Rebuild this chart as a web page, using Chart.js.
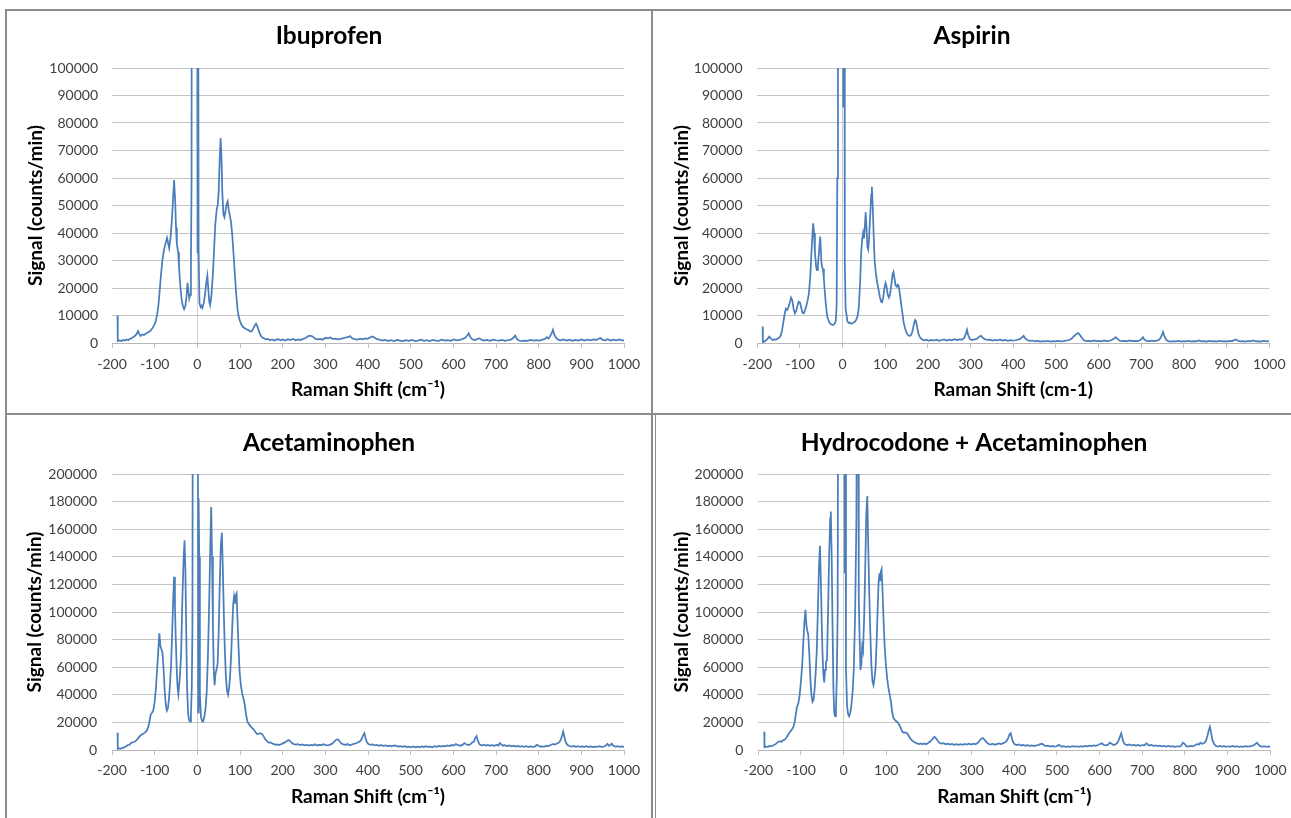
<!DOCTYPE html>
<html>
<head>
<meta charset="utf-8">
<title>Raman spectra</title>
<script src="https://cdn.jsdelivr.net/npm/chart.js@4.4.1/dist/chart.umd.min.js"></script>
<style>
    body { margin: 0; background: #fff; width: 1291px; height: 818px; overflow: hidden; position: relative; }
    .rule { position: absolute; background: #8c8c8c; }
    canvas { position: absolute; }
</style>
</head>
<body>
<div class="rule" style="left:5px;top:9px;width:1286px;height:2px"></div>
<div class="rule" style="left:5px;top:9px;width:2px;height:809px"></div>
<div class="rule" style="left:651px;top:9px;width:2px;height:809px"></div>
<div class="rule" style="left:655px;top:413px;width:1px;height:405px"></div>
<div class="rule" style="left:5px;top:413px;width:1286px;height:2px"></div>

<canvas id="ibuprofen" width="644" height="402" style="left:7px;top:11px"></canvas>
<canvas id="aspirin" width="638" height="402" style="left:653px;top:11px"></canvas>
<canvas id="acetaminophen" width="644" height="403" style="left:7px;top:415px"></canvas>
<canvas id="hydrocodone" width="634" height="403" style="left:657px;top:415px"></canvas>

<script>
"use strict";

// Raman shift axis, same for all four spectra
const shiftTicks = [-200, -100, 0, 100, 200, 300, 400, 500, 600, 700, 800, 900, 1000];

// Ibuprofen spectrum (Raman shift, counts/min), values above 100000 are clipped
const ibuprofenShift = [-187, -186.5, -182, -178, -174, -170, -166, -162, -158, -154, -150, -146, -142, -139, -136, -133, -129, -125, -121, -117, -113, -109, -105, -101, -97, -94, -91, -88, -85, -82, -78, -74, -71, -68, -66, -63, -60, -57, -54.5, -52, -50, -48, -45, -43, -40, -37, -34, -31, -28, -25, -23, -21, -19, -17, -15, -13.5, -12.5, -1, 0.5, 1.5, 3, 5, 8, 10, 12, 15, 18, 21, 23.5, 26, 28, 30, 33, 36, 39, 42, 45, 48, 50, 52.5, 54.5, 56.5, 58.5, 61, 63.5, 66, 68.5, 71, 73.5, 76, 79, 82, 85, 88, 91, 94, 97, 100, 103, 107, 111, 115, 119, 123, 127, 131, 134, 137.5, 140, 143, 146, 149, 152, 156, 160, 165, 170, 175, 180, 185, 190, 195, 200, 206, 212, 218, 224, 230, 236, 242, 248, 254, 260, 265, 270, 276, 282, 288, 294, 300, 306, 312, 318, 324, 330, 336, 342, 348, 354, 358, 363, 369, 375, 381, 387, 393, 399, 405, 410, 415, 421, 427, 433, 440, 447, 454, 461, 468, 475, 482, 489, 496, 503, 510, 517, 524, 531, 538, 545, 552, 559, 566, 573, 580, 587, 594, 601, 608, 615, 622, 628, 633, 636, 639, 643, 649, 655, 660, 666, 672, 679, 686, 693, 700, 707, 714, 721, 728, 735, 740, 745, 749, 754, 760, 767, 774, 781, 788, 795, 802, 809, 815, 819, 823, 827, 831, 833.5, 836, 840, 845, 851, 858, 865, 872, 879, 886, 893, 900, 907, 914, 921, 928, 935, 941, 945, 950, 956, 962, 968, 975, 982, 989, 996, 1000];
const ibuprofenSignal = [10000, 700, 900, 700, 1100, 900, 1300, 1000, 1500, 1700, 2200, 2600, 3300, 4300, 3300, 2600, 3100, 2900, 3400, 3700, 4100, 4600, 5500, 6500, 8200, 10500, 14000, 19500, 25000, 30000, 34000, 36500, 38200, 36000, 34500, 38000, 44000, 52000, 59300, 52000, 42000, 36000, 33000, 28000, 21000, 16000, 13500, 12300, 13500, 17500, 21900, 19000, 16200, 17500, 28000, 60000, 300000, 300000, 33000, 200000, 33000, 14500, 13000, 13500, 12800, 14500, 17500, 22000, 24500, 19000, 15000, 13800, 17000, 24000, 33000, 43000, 48000, 50500, 55000, 67000, 74500, 68000, 55000, 47000, 45800, 48000, 50500, 51500, 48500, 46500, 44000, 39000, 32000, 25000, 18000, 12500, 9500, 8000, 6800, 5800, 5400, 5000, 4800, 4300, 4200, 5200, 6200, 7000, 6300, 5000, 3600, 2600, 2000, 1700, 1300, 1500, 1000, 1300, 900, 1200, 1400, 1000, 1300, 900, 1400, 1100, 1500, 1000, 1300, 1100, 1500, 1800, 2500, 2700, 2400, 1600, 1300, 1500, 1200, 1900, 1700, 2000, 1400, 1600, 1300, 1500, 1800, 2000, 2200, 2500, 1700, 1400, 1200, 1600, 1300, 1700, 1500, 2000, 2400, 2000, 1400, 1200, 900, 1100, 800, 1000, 700, 1100, 900, 700, 1000, 800, 1100, 700, 900, 1200, 800, 1000, 700, 1100, 900, 800, 1200, 900, 1000, 800, 1300, 1000, 1100, 1500, 1900, 2800, 3500, 2400, 1500, 1100, 1300, 1700, 1200, 900, 1100, 800, 1200, 1000, 900, 1100, 800, 1000, 1200, 1800, 2700, 1500, 900, 700, 900, 800, 1100, 900, 1000, 900, 1200, 1500, 2100, 1600, 2500, 3800, 4800, 3300, 2000, 1300, 1000, 1300, 900, 1200, 800, 1100, 900, 1300, 900, 1200, 1000, 1300, 1100, 1600, 1800, 1100, 1000, 1400, 900, 1200, 1000, 1300, 900, 1100];

// Aspirin spectrum
const aspirinShift = [-187.5, -187, -184, -180, -176, -172, -168, -164, -160, -156, -152, -148, -145, -142, -139, -136, -133, -130, -127, -124, -121, -118, -115, -112, -109, -106, -103, -100, -97, -94, -91, -88, -85, -82, -79, -76, -73, -70.5, -69, -67, -65, -62, -60, -58, -55, -52.5, -50, -48, -46, -44, -42, -39, -36, -33, -30, -27, -24, -21, -18, -16, -14, -12.5, -11, 0.5, 1.5, 2.5, 4, 5, 7, 9, 11, 14, 17, 20, 23, 26, 29, 32, 35, 38, 41, 43.5, 46, 48, 50, 52, 54, 56, 58, 60, 62, 64.5, 67, 68.5, 70.5, 73, 75, 78, 81, 84, 87, 90, 92.5, 95, 98, 100.5, 103, 106, 108.5, 111, 114, 117, 119, 121, 124, 127, 129, 131, 134, 137, 140, 143, 146, 149, 152, 155, 158, 161, 164, 167, 170, 172, 175, 178, 182, 186, 191, 196, 202, 208, 214, 220, 226, 232, 238, 244, 250, 256, 262, 268, 274, 280, 285, 289, 291.5, 294, 298, 303, 309, 315, 320, 324, 328, 333, 339, 345, 351, 357, 363, 369, 375, 381, 387, 393, 399, 405, 411, 416, 420, 424, 428, 433, 439, 445, 451, 457, 463, 469, 475, 481, 487, 493, 499, 505, 511, 517, 523, 529, 535, 540, 545, 549, 552, 556, 560, 565, 571, 577, 583, 589, 595, 601, 607, 613, 619, 625, 631, 636, 640, 644, 649, 655, 661, 667, 673, 679, 685, 691, 697, 701, 704, 707, 712, 718, 724, 730, 736, 741, 745, 748, 751, 754, 758, 763, 769, 775, 781, 787, 793, 799, 805, 811, 817, 823, 829, 835, 841, 847, 853, 859, 865, 871, 877, 883, 889, 895, 901, 907, 913, 918, 922, 926, 932, 938, 944, 950, 956, 962, 968, 974, 980, 986, 992, 1000];
const aspirinSignal = [6000, 300, 500, 900, 1500, 2300, 1600, 1100, 1300, 1200, 1600, 2000, 2800, 4500, 7500, 10500, 12500, 12000, 13000, 14500, 16500, 15500, 12500, 10800, 11500, 13500, 15000, 14800, 12800, 11000, 10800, 12000, 13500, 15500, 18000, 24000, 33000, 40000, 43500, 40000, 33000, 27500, 26500, 28000, 34000, 38700, 30000, 27500, 27000, 23500, 19000, 13500, 9500, 8200, 7200, 6800, 6500, 6700, 7200, 8000, 14000, 60000, 300000, 300000, 86000, 300000, 250000, 30000, 12000, 10500, 8000, 7300, 7400, 7000, 7200, 7500, 7800, 8500, 9800, 13000, 22000, 33000, 38000, 40000, 38000, 42000, 47500, 42000, 35000, 34000, 38000, 46000, 54000, 56800, 50000, 38000, 30000, 25000, 22000, 19500, 17000, 15000, 14800, 16500, 20000, 21800, 20500, 17500, 16500, 17500, 21000, 25000, 25800, 24000, 21000, 20500, 21200, 21000, 18000, 14500, 11000, 7500, 5500, 4000, 3100, 2700, 2600, 3000, 4500, 6800, 8400, 8000, 5500, 3200, 1900, 1300, 1000, 1200, 800, 1100, 900, 1200, 800, 1100, 1300, 900, 1200, 1000, 1400, 1100, 1300, 1200, 1800, 3500, 4800, 3000, 1500, 1100, 1300, 1600, 2300, 2600, 2000, 1400, 1100, 1200, 900, 1100, 1000, 1200, 900, 1100, 800, 1000, 900, 1000, 1200, 1500, 2000, 2600, 1700, 1100, 800, 900, 600, 800, 500, 700, 600, 800, 500, 700, 600, 800, 600, 700, 900, 1000, 1400, 2100, 2900, 3400, 3600, 3000, 2000, 1100, 700, 800, 600, 900, 700, 800, 600, 900, 700, 800, 1100, 1600, 2100, 1500, 900, 700, 800, 600, 900, 700, 800, 700, 1000, 1500, 2100, 1300, 800, 700, 900, 700, 900, 1100, 1800, 2900, 4000, 2500, 1200, 700, 500, 700, 600, 800, 500, 700, 600, 800, 500, 700, 600, 900, 600, 700, 500, 800, 600, 700, 500, 800, 600, 700, 500, 800, 700, 1100, 1300, 800, 600, 700, 500, 800, 600, 900, 600, 700, 500, 800, 600, 700];

// Acetaminophen spectrum
const acetaminophenShift = [-187, -186.5, -183, -179, -175, -171, -167, -163, -159, -155, -151, -147, -143, -139, -135, -131, -127, -123, -119, -115, -112, -109, -106, -103, -100, -97, -94, -91.5, -89, -86.5, -84, -81.5, -79, -76.5, -74, -71.5, -69, -66.5, -64, -61.5, -59, -56.5, -54.5, -52.5, -50.5, -48.5, -46.5, -44.5, -42.5, -40.5, -38, -35, -32, -30, -28, -26, -24, -21.5, -19, -17, -15, -13, -11.5, -10, 1, 2, 3, 4.5, 6, 8.5, 11, 13.5, 16, 19, 22, 25, 28, 30.5, 32.5, 34.5, 36.5, 38.5, 40.5, 42.5, 45, 47.5, 50, 52.5, 55, 57.5, 59.5, 62, 64.5, 67, 69.5, 72, 74.5, 77, 79.5, 82, 84, 86, 88, 90, 92, 94, 96.5, 99, 102, 105, 108, 111, 114, 117, 120, 124, 128, 132, 136, 140, 144, 148, 152, 156, 160, 164, 168, 172, 176, 180, 184, 188, 192, 196, 200, 205, 210, 214, 218, 222, 226, 231, 236, 241, 246, 251, 256, 261, 266, 271, 276, 281, 286, 291, 296, 301, 306, 311, 316, 321, 325, 329, 333, 337, 342, 347, 352, 357, 362, 367, 372, 377, 382, 386, 389, 391.5, 394, 397, 401, 406, 411, 416, 421, 426, 431, 436, 441, 446, 451, 456, 461, 466, 471, 476, 481, 486, 491, 496, 501, 506, 511, 516, 521, 526, 531, 536, 541, 546, 551, 556, 561, 566, 571, 576, 581, 586, 591, 596, 601, 606, 611, 616, 621, 626, 630, 635, 640, 644, 648, 651, 654.5, 657, 661, 666, 671, 676, 681, 686, 691, 696, 701, 706, 709, 712, 716, 721, 726, 731, 736, 741, 746, 751, 756, 761, 766, 771, 776, 781, 786, 791, 795, 799, 803, 808, 813, 818, 823, 828, 833, 838, 843, 848, 852, 855, 857.5, 860, 863, 867, 872, 877, 882, 887, 892, 897, 902, 907, 912, 917, 922, 927, 932, 937, 942, 947, 952, 957, 961, 965, 968, 971, 975, 980, 985, 990, 995, 1000];
const acetaminophenSignal = [12500, 900, 1200, 1000, 1600, 1900, 2700, 3500, 3800, 5200, 5600, 6000, 6900, 8400, 10000, 11000, 11800, 12600, 13800, 16500, 21000, 26000, 27000, 29000, 35000, 45000, 60000, 72000, 84600, 75000, 73000, 70000, 58000, 43000, 33000, 28500, 30000, 37000, 48000, 62000, 85000, 110000, 125600, 105000, 80000, 60000, 46000, 40500, 47000, 55000, 70000, 110000, 140000, 152000, 130000, 85000, 45000, 26000, 21500, 20500, 26000, 45000, 90000, 400000, 400000, 27000, 182500, 140000, 40000, 24000, 21000, 20500, 23500, 29000, 42000, 70000, 110000, 150000, 176000, 140000, 90000, 58000, 47000, 55000, 58500, 62000, 85000, 120000, 148000, 157500, 135000, 100000, 72000, 53000, 43000, 40000, 45000, 55000, 70000, 90000, 105000, 111000, 106000, 112000, 113500, 96000, 75000, 57000, 47000, 41000, 37500, 33000, 26000, 21000, 19000, 17500, 16000, 15000, 13000, 11500, 11800, 12200, 11500, 9500, 7500, 6200, 5200, 5500, 4600, 4300, 3800, 4100, 3600, 4200, 4800, 5500, 6500, 7200, 6300, 5000, 4300, 3900, 4300, 3500, 4000, 3400, 3800, 3200, 3700, 3400, 4100, 3300, 3700, 3500, 4200, 3600, 3300, 3900, 4600, 6000, 7300, 7800, 6500, 4900, 4000, 3700, 4300, 3400, 3900, 4500, 4900, 5600, 6500, 8500, 11000, 12200, 9000, 5800, 4300, 3700, 4000, 3300, 3700, 3100, 3500, 3000, 3400, 2800, 3200, 2700, 3300, 3000, 2400, 2800, 2300, 2700, 2100, 2500, 2000, 2600, 1900, 2400, 2000, 2600, 2200, 2800, 2300, 2500, 2000, 2700, 2300, 2900, 2400, 3000, 2600, 3300, 2800, 3600, 3200, 4300, 3500, 3100, 3700, 5000, 4200, 3500, 4100, 5500, 6000, 8500, 10100, 7000, 4200, 3300, 3900, 3200, 3600, 3100, 3500, 3000, 3600, 3300, 5000, 4200, 3100, 3500, 2900, 3300, 2700, 3100, 2500, 2900, 2400, 2800, 2300, 2700, 2200, 2600, 2300, 2500, 3600, 3400, 2400, 2700, 2500, 3000, 2800, 3600, 4300, 4000, 4700, 5500, 7500, 10500, 13300, 10000, 6000, 3800, 2900, 2400, 2900, 2300, 2700, 2200, 2600, 2300, 2800, 2200, 2600, 2100, 2500, 2200, 2700, 2300, 2500, 3000, 4500, 3000, 3600, 4600, 3000, 2400, 2700, 2200, 2600, 2300];

// Hydrocodone + Acetaminophen spectrum
const hydrocodoneShift = [-186, -185.5, -182, -178, -174, -170, -166, -162, -158, -154, -150, -146, -142, -138, -134, -130, -126, -122, -118, -115, -112, -109, -106, -103, -100, -97, -94.5, -92, -89.5, -87, -85, -83, -80.5, -78, -75.5, -73, -70.5, -68, -65.5, -63, -60.5, -58, -55.5, -53.5, -51.5, -49.5, -47.5, -45.5, -43.5, -41.5, -39, -36.5, -34, -31.5, -30, -28, -26, -24, -22, -20, -18, -16, -14, -12, 1, 2, 3, 4, 5.5, 8, 10.5, 13, 15.5, 18, 21, 24, 27, 30, 32.5, 34, 35.5, 37.5, 39.5, 41.5, 43.5, 45.5, 48, 50.5, 53, 55.5, 57.5, 60, 62.5, 65, 67.5, 70, 72.5, 75, 77.5, 80, 82, 84, 85.5, 87, 89, 91, 93.5, 96, 99, 102, 105, 108, 111, 114, 117, 121, 125, 129, 133, 137, 141, 145, 149, 153, 157, 161, 165, 169, 173, 177, 181, 185, 189, 193, 197, 201, 205, 209, 213, 217, 221, 225, 229, 234, 239, 244, 249, 254, 259, 264, 269, 274, 279, 284, 289, 294, 299, 304, 309, 314, 318, 322, 326, 330, 334, 339, 344, 349, 354, 359, 364, 369, 374, 379, 383, 386, 389, 391.5, 394, 397, 401, 406, 411, 416, 421, 426, 431, 436, 441, 446, 451, 456, 461, 465, 469, 474, 479, 484, 489, 494, 499, 503, 507, 511, 516, 521, 526, 531, 536, 541, 546, 551, 556, 561, 566, 571, 576, 581, 586, 591, 596, 601, 605, 609, 614, 619, 624, 628, 633, 638, 642, 645, 648, 650.5, 653, 656, 660, 665, 670, 675, 680, 685, 690, 695, 700, 705, 709, 712, 716, 721, 726, 731, 736, 741, 746, 751, 756, 761, 766, 771, 776, 781, 786, 791, 795, 799, 803, 808, 813, 818, 823, 828, 833, 836, 840, 845, 849, 853, 856, 858.5, 861, 864, 868, 872, 877, 882, 887, 892, 897, 902, 907, 912, 917, 922, 927, 932, 937, 942, 947, 952, 957, 962, 966, 969, 972, 976, 981, 986, 991, 996, 1000];
const hydrocodoneSignal = [13300, 2000, 2600, 2200, 2900, 2600, 3300, 3800, 4600, 5800, 6300, 6000, 7000, 7600, 9000, 11000, 13000, 14500, 16500, 20000, 26000, 31500, 34000, 40000, 50000, 62000, 78000, 92000, 101500, 90000, 86000, 84000, 70000, 52000, 40000, 35000, 36500, 44000, 56000, 72000, 100000, 130000, 148000, 125000, 95000, 70000, 55000, 49000, 58000, 64000, 65000, 100000, 140000, 168000, 172800, 140000, 90000, 45000, 27000, 24500, 30000, 52000, 100000, 400000, 400000, 128000, 400000, 300000, 60000, 32000, 26000, 24500, 27000, 32000, 42000, 60000, 100000, 170000, 400000, 300000, 110000, 80000, 58000, 62000, 75000, 72000, 95000, 130000, 170000, 184000, 150000, 115000, 85000, 62000, 50000, 47000, 52000, 60000, 80000, 105000, 122000, 128000, 123000, 129000, 131000, 117000, 95000, 76000, 62000, 52000, 45000, 40000, 35000, 27000, 23000, 21500, 20500, 19000, 16500, 13500, 12500, 12800, 12000, 10000, 8000, 6800, 5800, 5200, 4600, 4300, 4800, 4200, 4700, 4100, 4800, 5800, 6800, 8200, 9600, 8300, 6500, 5100, 4600, 5000, 4200, 4600, 3900, 4400, 3800, 4300, 3700, 4200, 3800, 4400, 3900, 4500, 4000, 4600, 4200, 5000, 6500, 8000, 8700, 7500, 5800, 4500, 4000, 4600, 3800, 4300, 4800, 4300, 5000, 5600, 7000, 9000, 11500, 12200, 9000, 5800, 4200, 3600, 4100, 3300, 3700, 3100, 3500, 3000, 3400, 2900, 3300, 3500, 4200, 4500, 3600, 2800, 3100, 2500, 2900, 2400, 2700, 3600, 3400, 2300, 2700, 2200, 2600, 2300, 2800, 2400, 2700, 2300, 2800, 2500, 3000, 2600, 3100, 2800, 3400, 3000, 3600, 4400, 4900, 3800, 3300, 3700, 5400, 4500, 3600, 4200, 5500, 7500, 10000, 12000, 9000, 5500, 4000, 3500, 4000, 3300, 3700, 3200, 3600, 3100, 3600, 3400, 4800, 4300, 3200, 3600, 3000, 3400, 2800, 3200, 2600, 3000, 2500, 2900, 2400, 2800, 2300, 2700, 2400, 3000, 5300, 4500, 2800, 2500, 2900, 2600, 3200, 4300, 4000, 5300, 4500, 5000, 6500, 10500, 14500, 16900, 13000, 7500, 4500, 3000, 2500, 3000, 2400, 2800, 2300, 2700, 2400, 2900, 2300, 2700, 2200, 2600, 2300, 2800, 2400, 2600, 3000, 3600, 4600, 5300, 4000, 2800, 2400, 2700, 2300, 2600, 2300];

// y-axis ranges of the two rows
const topRowMax = 100000;
const topRowStep = 10000;
const bottomRowMax = 200000;
const bottomRowStep = 20000;

const lineColor = "#4a7ebb";
const gridColor = "#c4c4c4";
const fontFamily = "Lato, 'Open Sans', sans-serif";

// This function draws one spectrum panel; the geometry numbers only place the plot area
function drawSpectrum(canvasId, title, xTitle, shifts, signals, yMax, yStep, geo) {
    const points = shifts.map(function (shift, i) {
        return { x: shift, y: signals[i] };
    });

    new Chart(document.getElementById(canvasId), {
        type: "line",
        data: {
            datasets: [{
                data: points,
                borderColor: lineColor,
                borderWidth: 1.75,
                pointRadius: 0,
                tension: 0,
                fill: false
            }]
        },
        options: {
            responsive: false,
            animation: false,
            events: [],
            layout: { padding: 0 },
            plugins: {
                legend: { display: false },
                tooltip: { enabled: false },
                title: {
                    display: true,
                    text: title,
                    color: "#000",
                    font: { family: fontFamily, size: 24.5, weight: "bold", lineHeight: 1.2 },
                    padding: { top: geo.titleTop, bottom: geo.titleBottom }
                }
            },
            scales: {
                x: {
                    type: "linear",
                    min: shiftTicks[0],
                    max: shiftTicks[shiftTicks.length - 1],
                    afterBuildTicks: function (scale) {
                        scale.ticks = shiftTicks.map(function (v) { return { value: v }; });
                    },
                    ticks: {
                        color: "#404040",
                        font: { family: fontFamily, size: 14 },
                        padding: geo.xTickPad,
                        maxRotation: 0,
                        autoSkip: false,
                        callback: function (v) { return String(v); }
                    },
                    grid: {
                        color: function (ctx) {
                            return ctx.tick && ctx.tick.value === 0 ? "#d0d0d0" : "rgba(0,0,0,0)";
                        },
                        tickColor: gridColor,
                        tickLength: 5,
                        drawTicks: true
                    },
                    border: { display: true, color: "#b8b8b8", width: 1 },
                    title: {
                        display: true,
                        text: xTitle,
                        color: "#000",
                        font: { family: fontFamily, size: 19, weight: "bold", lineHeight: 1.2 },
                        padding: { top: 0, bottom: geo.xTitlePad }
                    },
                    afterFit: function (scale) {
                        scale.height = geo.xHeight;
                        scale.paddingLeft = 0;
                        scale.paddingRight = geo.rightPad;
                    }
                },
                y: {
                    min: 0,
                    max: yMax,
                    ticks: {
                        stepSize: yStep,
                        color: "#404040",
                        font: { family: fontFamily, size: 14 },
                        padding: geo.yTickPad,
                        callback: function (v) { return String(v); }
                    },
                    grid: { color: gridColor, drawTicks: false },
                    border: { display: false },
                    title: {
                        display: true,
                        text: "Signal (counts/min)",
                        color: "#000",
                        font: { family: fontFamily, size: 19, weight: "bold", lineHeight: 1.2 },
                        padding: { top: geo.yTitlePad, bottom: 0 }
                    },
                    afterFit: function (scale) {
                        scale.width = geo.yWidth;
                    }
                }
            }
        }
    });
}

drawSpectrum("ibuprofen", "Ibuprofen", "Raman Shift (cm\u207B\u00B9)", ibuprofenShift, ibuprofenSignal, topRowMax, topRowStep,
    { titleTop: 10.8, titleBottom: 16.8, xHeight: 70, xTitlePad: 11.6, xTickPad: 7.6, rightPad: 27, yWidth: 105, yTickPad: 14, yTitlePad: 17.6 });

drawSpectrum("aspirin", "Aspirin", "Raman Shift (cm-1)", aspirinShift, aspirinSignal, topRowMax, topRowStep,
    { titleTop: 10.8, titleBottom: 16.8, xHeight: 70, xTitlePad: 11.6, xTickPad: 7.6, rightPad: 21.7, yWidth: 104.3, yTickPad: 14.8, yTitlePad: 17.6 });

drawSpectrum("acetaminophen", "Acetaminophen", "Raman Shift (cm\u207B\u00B9)", acetaminophenShift, acetaminophenSignal, bottomRowMax, bottomRowStep,
    { titleTop: 13.3, titleBottom: 16.3, xHeight: 68, xTitlePad: 9.9, xTickPad: 6.6, rightPad: 27, yWidth: 105, yTickPad: 15, yTitlePad: 16.6 });

drawSpectrum("hydrocodone", "Hydrocodone + Acetaminophen", "Raman Shift (cm\u207B\u00B9)", hydrocodoneShift, hydrocodoneSignal, bottomRowMax, bottomRowStep,
    { titleTop: 13.3, titleBottom: 16.3, xHeight: 68, xTitlePad: 9.9, xTickPad: 6.6, rightPad: 20.7, yWidth: 101.3, yTickPad: 15, yTitlePad: 13.6 });
</script>
</body>
</html>
